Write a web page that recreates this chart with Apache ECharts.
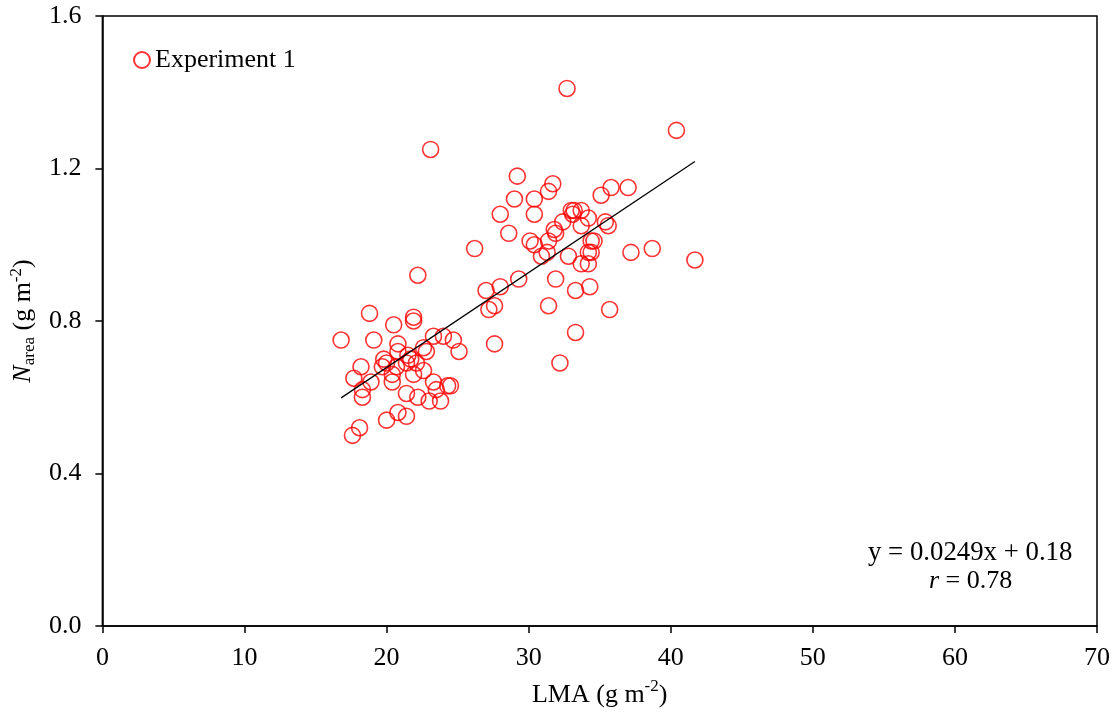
<!DOCTYPE html>
<html>
<head>
<meta charset="utf-8">
<script src="https://cdn.jsdelivr.net/npm/echarts@6/dist/echarts.min.js"></script>
<style>html,body{margin:0;padding:0;background:#fff}#c{width:1120px;height:717px}</style>
</head>
<body>
<div id="c"></div>
<script>
// LMA (g m-2)
const lma = [
  32.7, 40.4, 23.1, 29.2, 31.7, 31.4, 37.0, 35.8, 35.1, 29.0,
  30.4, 28.0, 30.4, 33.0, 33.2, 33.7, 33.1, 34.2, 32.4, 33.7,
  35.4, 35.6, 31.8, 31.9, 28.6, 26.2, 30.1, 30.4, 31.4, 31.3,
  30.9, 32.8, 34.4, 34.6, 34.2, 34.4, 33.7, 34.2, 37.2, 38.7,
  41.7, 22.2, 29.3, 31.9, 27.0, 28.0, 33.3, 34.3, 31.4, 27.6,
  27.2, 35.7, 33.3, 27.6, 32.2,
  16.8, 19.1, 20.5, 21.9, 21.9, 18.8, 20.8, 23.3, 24.0, 24.7,
  25.1, 22.6, 22.8, 20.8, 19.8, 20.0, 19.7, 21.5, 21.7, 21.4,
  22.1, 22.6, 21.9, 20.4, 20.4, 18.2, 17.7, 18.9, 18.3, 18.3,
  21.4, 23.3, 23.5, 24.3, 24.5, 22.2, 23.0, 23.8, 20.8, 21.4,
  20.0, 18.1, 17.6, 20.7
];
// Narea (g m-2)
const narea = [
  1.41, 1.30, 1.25, 1.18, 1.16, 1.14, 1.15, 1.15, 1.13, 1.12,
  1.12, 1.08, 1.08, 1.09, 1.09, 1.09, 1.08, 1.07, 1.06, 1.05,
  1.06, 1.05, 1.04, 1.03, 1.03, 0.99, 1.01, 1.00, 1.01, 0.98,
  0.97, 0.97, 1.01, 1.01, 0.98, 0.98, 0.95, 0.95, 0.98, 0.99,
  0.96, 0.92, 0.91, 0.91, 0.88, 0.89, 0.88, 0.89, 0.84, 0.84,
  0.83, 0.83, 0.77, 0.74, 0.69,
  0.75, 0.75, 0.79, 0.81, 0.80, 0.82, 0.74, 0.76, 0.76, 0.75,
  0.72, 0.73, 0.72, 0.72, 0.70, 0.69, 0.68, 0.71, 0.70, 0.69,
  0.69, 0.67, 0.66, 0.66, 0.64, 0.68, 0.65, 0.64, 0.62, 0.60,
  0.61, 0.64, 0.62, 0.63, 0.63, 0.60, 0.59, 0.59, 0.56, 0.55,
  0.54, 0.52, 0.50, 0.68
];
const slope = 0.0249;
const intercept = 0.18;
const seriesName = 'Experiment 1';
const eqText = 'y = 0.0249x + 0.18';
const rText = '0.78';

const points = lma.map((x, i) => [x, narea[i]]);
const xMin = Math.min(...lma), xMax = Math.max(...lma);
const fitLine = [[xMin, slope * xMin + intercept], [xMax, slope * xMax + intercept]];

const FONT = '"Liberation Serif", "Times New Roman", serif';
const chart = echarts.init(document.getElementById('c'));
chart.setOption({
  animation: false,
  backgroundColor: '#fff',
  textStyle: { fontFamily: FONT, color: '#000' },
  grid: { left: 101, right: 23, top: 16, bottom: 91, show: true, borderColor: '#000', borderWidth: 1.5 },
  legend: {
    data: [seriesName],
    left: 128, top: 42,
    itemWidth: 16, itemHeight: 16, itemGap: 5,
    textStyle: { fontFamily: FONT, fontSize: 26, color: '#000' }
  },
  xAxis: {
    type: 'value', min: 0, max: 70, interval: 10,
    name: '{n|LMA (g m}{sup|-2}{n|)}',
    nameLocation: 'middle', nameGap: 52,
    nameTextStyle: {
      rich: {
        n: { fontFamily: FONT, fontSize: 26, color: '#000', lineHeight: 30, verticalAlign: 'bottom' },
        sup: { fontFamily: FONT, fontSize: 17, color: '#000', lineHeight: 30, verticalAlign: 'top' }
      }
    },
    axisLine: { onZero: false, lineStyle: { color: '#000', width: 1.5 } },
    axisTick: { inside: false, length: 7, lineStyle: { color: '#000', width: 1.5 } },
    axisLabel: { fontFamily: FONT, fontSize: 26, color: '#000', margin: 19 },
    splitLine: { show: false }
  },
  yAxis: {
    type: 'value', min: 0, max: 1.6, interval: 0.4,
    name: '{it|N}{sub|area}{n| (g m}{sup|-2}{n|)}',
    nameLocation: 'middle', nameGap: 61, nameRotate: 90,
    nameTextStyle: {
      rich: {
        it: { fontFamily: FONT, fontSize: 26, fontStyle: 'italic', color: '#000', lineHeight: 30, verticalAlign: 'middle' },
        n: { fontFamily: FONT, fontSize: 26, color: '#000', lineHeight: 30, verticalAlign: 'middle' },
        sub: { fontFamily: FONT, fontSize: 17, color: '#000', lineHeight: 30, verticalAlign: 'bottom' },
        sup: { fontFamily: FONT, fontSize: 17, color: '#000', lineHeight: 30, verticalAlign: 'top' }
      }
    },
    axisLine: { onZero: false, lineStyle: { color: '#000', width: 1.5 } },
    axisTick: { inside: false, length: 7, lineStyle: { color: '#000', width: 1.5 } },
    axisLabel: { fontFamily: FONT, fontSize: 26, color: '#000', margin: 21, formatter: v => v.toFixed(1) },
    splitLine: { show: false }
  },
  graphic: [
    { type: 'text', left: 868, top: 539, style: { text: eqText, font: '26.8px ' + FONT, fill: '#000' } },
    { type: 'text', left: 929, top: 568, style: {
      rich: {
        it: { fontFamily: FONT, fontSize: 26, fontStyle: 'italic', fill: '#000' },
        n: { fontFamily: FONT, fontSize: 26, fill: '#000' }
      },
      text: '{it|r}{n| = ' + rText + '}'
    } }
  ],
  series: [
    {
      name: seriesName, type: 'scatter', data: points,
      symbol: 'circle', symbolSize: 16,
      itemStyle: { color: 'rgba(255,255,255,0)', borderColor: '#ff0000', borderWidth: 1.6 },
      emphasis: { disabled: true }, z: 3
    },
    {
      name: 'fit', type: 'line', data: fitLine, showSymbol: false, symbol: 'none',
      lineStyle: { color: '#000', width: 1.3 }, z: 4, silent: true
    }
  ]
});
</script>
</body>
</html>
